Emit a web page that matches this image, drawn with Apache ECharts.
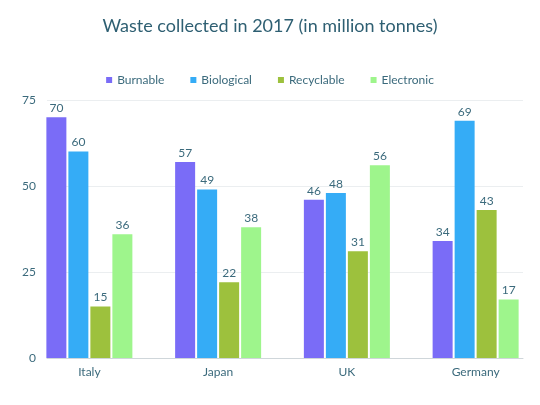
<!DOCTYPE html>
<html><head><meta charset="utf-8">
<script src="https://cdn.jsdelivr.net/npm/echarts@6/dist/echarts.min.js"></script>
<style>html,body{margin:0;padding:0;background:#fff}#c{width:540px;height:405px}</style>
</head><body><div id="c"></div>
<script>
const categories = ['Italy', 'Japan', 'UK', 'Germany'];
const burnable = [70, 57, 46, 34];
const biological = [60, 49, 48, 69];
const recyclable = [15, 22, 31, 43];
const electronic = [36, 38, 56, 17];
const seriesNames = ['Burnable', 'Biological', 'Recyclable', 'Electronic'];
const colors = ['#7a6cf7', '#35acf6', '#9dc13d', '#9ef58c'];
const yTicks = [0, 25, 50, 75];

const font = 'Lato, "Noto Sans", sans-serif';
const textColor = '#3b6a7c';
const chart = echarts.init(document.getElementById('c'));
const values = [burnable, biological, recyclable, electronic];
chart.setOption({
  animation: false,
  color: colors,
  title: {
    text: 'Waste collected in 2017 (in million tonnes)',
    left: 'center', top: 12,
    textStyle: {fontFamily: font, fontWeight: 'normal', fontSize: 18, color: '#2e5f72'}
  },
  legend: {
    top: 69, left: 'center',
    itemWidth: 6, itemHeight: 6, itemGap: 26,
    icon: 'rect',
    textStyle: {fontFamily: font, fontSize: 12, color: textColor},
    data: seriesNames
  },
  grid: [
    {left: 25, width: 520, top: 100, height: 258},
    {left: 47, width: 476, top: 100, height: 258}
  ],
  xAxis: [
    {gridIndex: 0, type: 'category', data: categories,
     axisLine: {show: false}, axisTick: {show: false},
     axisLabel: {fontFamily: font, fontSize: 12, color: textColor, margin: 8}},
    {gridIndex: 1, type: 'category', data: categories,
     axisLine: {show: true, lineStyle: {color: '#cfd6da', width: 1}},
     axisTick: {show: false}, axisLabel: {show: false}}
  ],
  yAxis: [
    {gridIndex: 0, type: 'value', min: yTicks[0], max: yTicks[yTicks.length - 1], interval: 25,
     axisLine: {show: false}, axisTick: {show: false}, axisLabel: {show: false},
     splitLine: {show: false}},
    {gridIndex: 1, type: 'value', min: yTicks[0], max: yTicks[yTicks.length - 1], interval: 25,
     axisLine: {show: false}, axisTick: {show: false},
     axisLabel: {fontFamily: font, fontSize: 12, color: textColor, margin: 11},
     splitLine: {lineStyle: {color: '#ebeef0', width: 1}}}
  ],
  series: seriesNames.map((name, i) => ({
    name: name, type: 'bar', xAxisIndex: 0, yAxisIndex: 0,
    data: values[i], barWidth: 20, barGap: '10%',
    itemStyle: {color: colors[i]},
    label: {show: true, position: 'top', distance: 3,
            fontFamily: font, fontSize: 12, color: textColor}
  }))
});
</script></body></html>
